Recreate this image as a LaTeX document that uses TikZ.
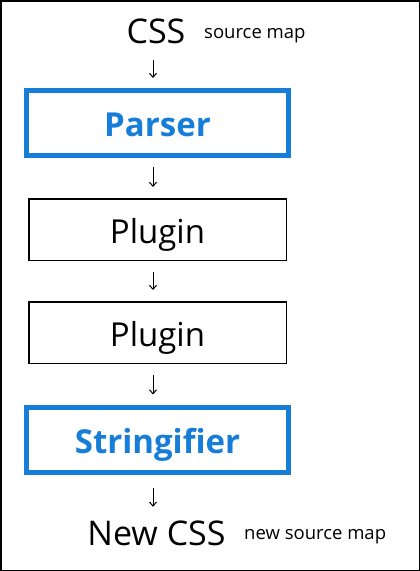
\documentclass[tikz,border=0pt]{standalone}
\usepackage{fontspec}
\setmainfont{Open Sans}
\usetikzlibrary{arrows.meta}

\definecolor{parseblue}{RGB}{22,126,216}

\tikzset{
  stage/.style={draw, line width=1.5pt, minimum width=257.5pt, minimum height=61.5pt,
    text height=27pt, text depth=0pt, font=\fontsize{33}{38}\selectfont},
  core/.style={stage, draw=parseblue, line width=5pt, minimum width=262pt, minimum height=65pt,
    text=parseblue, font=\fontsize{33}{38}\selectfont\bfseries},
  big/.style={inner sep=0pt, anchor=base, text height=25pt, text depth=0pt, font=\fontsize{34}{40}\selectfont},
  small/.style={inner sep=0pt, anchor=base west, font=\fontsize{18.5}{22}\selectfont},
  flow/.style={-{Straight Barb[length=4pt,width=7pt]}, line width=1pt}
}

\begin{document}
\begin{tikzpicture}[x=1pt,y=-1pt]
      \useasboundingbox (0,0) rectangle (420,571);
      \draw[line width=1.5pt] (0.75,0.75) rectangle (419.25,570.25);

      \node[big] (css) at (156,43) {CSS};
      \node[small] (srcmap) at (204,38) {source map};
      \node[core] (parser) at (157.5,123) {Parser};
      \node[stage] (plugina) at (157.5,229.5) {Plugin};
      \node[stage] (pluginb) at (157.5,332.5) {Plugin};
      \node[core] (stringifier) at (157.5,439.5) {Stringifier};
      \node[big] (newcss) at (156.5,545.7) {New CSS};
      \node[small] (newmap) at (244,539) {new source map};

      \draw[flow, shorten <=17pt, shorten >=10pt] ([xshift=-3pt]css.south) -- ([xshift=-4.5pt]parser.north);
      \draw[flow, shorten <=9pt, shorten >=11pt] ([xshift=-4.5pt]parser.south) -- ([xshift=-4.5pt]plugina.north);
      \draw[flow, shorten <=11pt, shorten >=11pt] ([xshift=-4.5pt]plugina.south) -- ([xshift=-4.5pt]pluginb.north);
      \draw[flow, shorten <=11pt, shorten >=10pt] ([xshift=-4.5pt]pluginb.south) -- ([xshift=-4.5pt]stringifier.north);
      \draw[flow, shorten <=13pt, shorten >=13.7pt] ([xshift=-4.5pt]stringifier.south) -- ([xshift=-3.5pt]newcss.north);

    \end{tikzpicture}
\end{document}
